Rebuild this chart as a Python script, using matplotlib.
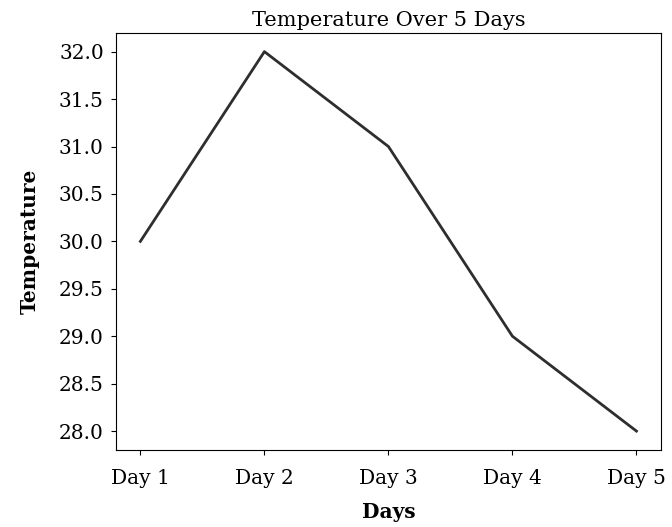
import matplotlib.pyplot as plt

# data
days = ["Day 1", "Day 2", "Day 3", "Day 4", "Day 5"]
temps = [30, 32, 31, 29, 28]

plt.rcParams['font.family'] = ['DejaVu Serif']

fig = plt.figure(figsize=(6.72, 5.27), dpi=100)
ax = fig.add_axes([0.172, 0.146, 0.812, 0.792])

ax.plot(days, temps, color='#2e2e2e', lw=2)

ax.set_title("Temperature Over 5 Days", fontsize=15, pad=5)
ax.set_xlabel("Days", fontsize=14.5, fontweight='bold', labelpad=10)
ax.set_ylabel("Temperature", fontsize=14.5, fontweight='bold', labelpad=14)
ax.tick_params(axis='y', labelsize=14.5, pad=5)
ax.tick_params(axis='x', labelsize=14.5, pad=10)
ax.set_yticks([28.0, 28.5, 29.0, 29.5, 30.0, 30.5, 31.0, 31.5, 32.0])

fig.savefig("out.png", dpi=100)
